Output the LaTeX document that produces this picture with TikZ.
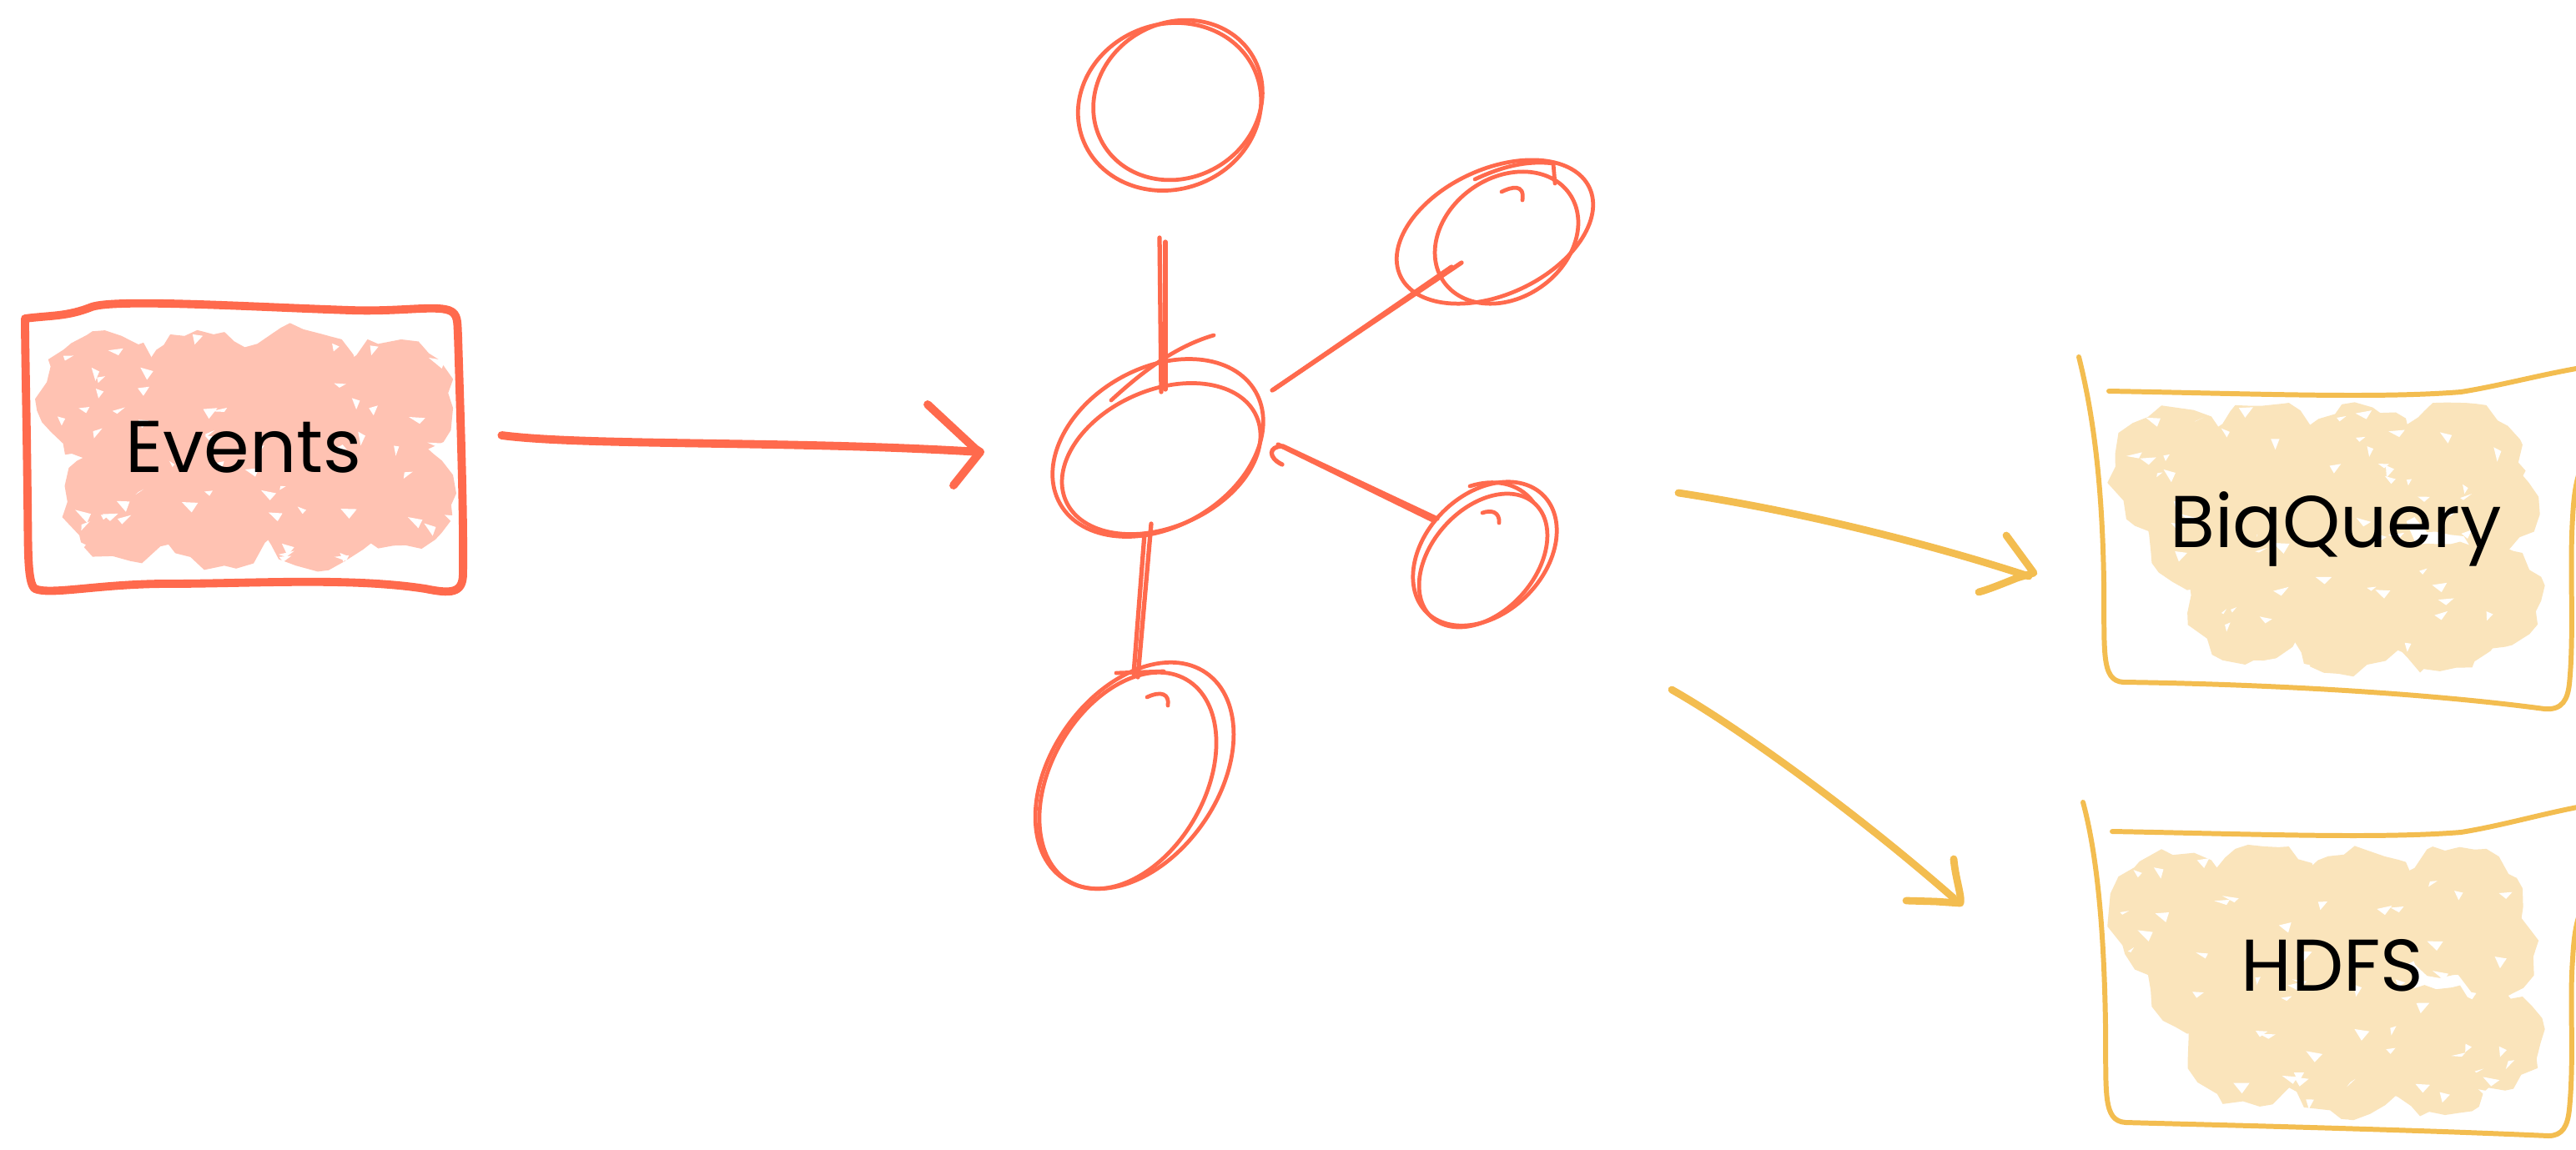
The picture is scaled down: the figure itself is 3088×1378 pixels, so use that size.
\documentclass[tikz,border=0pt]{standalone}
\usepackage{fontspec}
\newfontfamily\lblfont{Poppins}
\usetikzlibrary{arrows.meta,decorations.pathmorphing,shapes.geometric,calc}
\definecolor{redc}{RGB}{255,106,77}
\definecolor{redfill}{RGB}{255,194,178}
\definecolor{yelc}{RGB}{243,189,80}
\definecolor{yelfill}{RGB}{250,228,187}
\newcommand{\oct}[5]{\fill[#5, decorate, decoration={random steps, segment length=5pt, amplitude=1.5pt}, shift={(#1,#2)}, rotate=#4] (0:#3) -- (45:#3) -- (90:#3) -- (135:#3) -- (180:#3) -- (225:#3) -- (270:#3) -- (315:#3) -- cycle;}
\newcommand{\specks}[5]{\foreach \k in {1,...,#5}{\fill[white] ({#1+#3*rnd},{#2+#4*rnd}) -- ++({6+14*rnd},{-5+10*rnd}) -- ++({-3-8*rnd},{4+9*rnd}) -- cycle;}}
\newcommand{\yblob}{%
  \oct{2605}{565}{80}{10}{yelfill}
  \oct{2715}{562}{84}{25}{yelfill}
  \oct{2830}{566}{84}{5}{yelfill}
  \oct{2945}{562}{84}{20}{yelfill}
  \oct{2990}{610}{55}{15}{yelfill}
  \oct{2640}{640}{70}{30}{yelfill}
  \oct{2695}{720}{78}{22}{yelfill}
  \oct{2810}{732}{80}{8}{yelfill}
  \oct{2925}{728}{82}{28}{yelfill}
  \oct{2990}{715}{62}{12}{yelfill}
  \oct{2800}{650}{95}{0}{yelfill}
}
\begin{document}
\begin{tikzpicture}[x=0.01cm,y=-0.01cm,
  evline/.style={draw=redc, line width=2.8pt, line cap=round, line join=round},
  yline/.style={draw=yelc, line width=1.7pt, line cap=round, line join=round},
  gline/.style={draw=redc, line width=1.35pt, line cap=round},
  gnode/.style={ellipse, draw=redc, line width=1.35pt, inner sep=0pt},
  conn/.style={draw=redc, line width=1.5pt, line cap=round},
  rarr/.style={draw=redc, line width=2.8pt, line cap=round, line join=round},
  yarr/.style={draw=yelc, line width=2.5pt, line cap=round, line join=round},
  lbl/.style={font=\lblfont\fontsize{25}{30}\selectfont, text=black, inner sep=0pt},
]
\useasboundingbox (0,0) rectangle (3088,1378);
\fill[white] (0,0) rectangle (3088,1378);
\pgfmathsetseed{4711}

% ---------- Events fill ----------
\oct{125}{478}{82}{10}{redfill}
\oct{240}{478}{85}{25}{redfill}
\oct{355}{472}{85}{5}{redfill}
\oct{468}{482}{80}{20}{redfill}
\oct{150}{600}{78}{15}{redfill}
\oct{265}{608}{78}{30}{redfill}
\oct{380}{605}{80}{10}{redfill}
\oct{480}{595}{68}{22}{redfill}
\oct{300}{540}{95}{0}{redfill}
\specks{60}{400}{480}{280}{60}

% ---------- BiqQuery / HDFS fills ----------
\yblob
\specks{2540}{485}{500}{330}{60}
\begin{scope}[shift={(0,532)}]
\yblob
\end{scope}
\specks{2540}{1017}{500}{330}{60}

% ---------- Events box ----------
\draw[evline] (30,382) .. controls (60,378) and (80,380) .. (110,368)
  .. controls (140,358) and (300,368) .. (420,372)
  .. controls (480,374) and (520,366) .. (538,372)
  .. controls (550,376) and (548,388) .. (549,402)
  .. controls (552,500) and (556,620) .. (555,688)
  .. controls (555,712) and (540,712) .. (510,706)
  .. controls (420,692) and (300,700) .. (200,700)
  .. controls (120,700) and (60,714) .. (42,706)
  .. controls (32,700) and (34,650) .. (33,600)
  .. controls (32,500) and (30,420) .. (30,382);
\node[lbl, minimum width=5.25cm, minimum height=3.38cm] (ev) at (292,536) {Events};

% ---------- BiqQuery box ----------
\draw[yline] (2528,469) .. controls (2700,472) and (2850,478) .. (2950,470)
  .. controls (3000,462) and (3050,448) .. (3100,440);
\draw[yline] (2492,428) .. controls (2505,480) and (2520,560) .. (2522,700)
  .. controls (2523,780) and (2518,816) .. (2545,818)
  .. controls (2700,820) and (2900,830) .. (3050,850)
  .. controls (3072,852) and (3078,838) .. (3080,820)
  .. controls (3086,760) and (3080,680) .. (3084,620)
  .. controls (3086,580) and (3092,560) .. (3100,555);
\node[lbl] (bq) at (2800,634) {BiqQuery};

% ---------- HDFS box ----------
\draw[yline] (2532,997) .. controls (2700,1000) and (2850,1006) .. (2950,998)
  .. controls (3000,990) and (3050,975) .. (3100,966);
\draw[yline] (2497,962) .. controls (2510,1010) and (2522,1090) .. (2524,1230)
  .. controls (2525,1310) and (2520,1344) .. (2548,1346)
  .. controls (2700,1350) and (2900,1355) .. (3055,1362)
  .. controls (3072,1362) and (3078,1350) .. (3080,1330)
  .. controls (3086,1270) and (3080,1200) .. (3084,1150)
  .. controls (3086,1110) and (3092,1090) .. (3100,1085);
\node[lbl] (hd) at (2796,1158) {HDFS};

% ---------- graph nodes ----------
\node[gnode, minimum width=2.22cm, minimum height=1.98cm, rotate=20] (n1) at (1402,128) {};
\node[gnode, minimum width=2.7cm, minimum height=1.9cm, rotate=30] (mid) at (1388,537) {};
\node[gnode, minimum width=2.5cm, minimum height=1.5cm, rotate=25] (ur) at (1792,278) {};
\node[gnode, minimum width=1.98cm, minimum height=1.42cm, rotate=45] (rs) at (1780,664) {};
\node[gnode, minimum width=3.0cm, minimum height=2.0cm, rotate=55] (bt) at (1360,930) {};

% second sketch strokes
\draw[gline, rotate around={30:(1412,120)}] (1412,120) ellipse [x radius=104, y radius=93];
\draw[gline, rotate around={24:(1392,550)}] (1392,550) ellipse [x radius=125, y radius=82];
\draw[gline, rotate around={35:(1806,285)}] (1806,285) ellipse [x radius=92, y radius=72];
\draw[gline, rotate around={48:(1778,672)}] (1778,672) ellipse [x radius=92, y radius=62];
\draw[gline, rotate around={60:(1352,936)}] (1352,936) ellipse [x radius=140, y radius=92];
% overshoot ticks and hooks
\draw[gline] (1332,480) .. controls (1370,445) and (1410,415) .. (1455,402);
\draw[gline] (1338,807) -- (1395,805);
\draw[gline] (1375,836) .. controls (1392,828) and (1402,832) .. (1400,846);
\draw[gline] (1768,215) .. controls (1800,200) and (1830,192) .. (1862,196) -- (1864,220);
\draw[gline] (1800,230) .. controls (1812,224) and (1828,220) .. (1825,240);
\draw[gline] (1762,583) .. controls (1790,574) and (1820,578) .. (1838,602);
\draw[gline] (1777,615) .. controls (1788,611) and (1798,614) .. (1797,627);

% ---------- connectors in the graph ----------
\draw[conn] ([shift={(-12,157)}]n1.center) -- ([shift={(4,-67)}]mid.center);
\draw[conn] ([shift={(-5,162)}]n1.center) -- ([shift={(9,-70)}]mid.center);
\draw[conn] ([shift={(137,-69)}]mid.center) -- ([shift={(-40,37)}]ur.center);
\draw[conn] ([shift={(139,-70)}]mid.center) -- ([shift={(-52,42)}]ur.center);
\draw[conn] ([shift={(149,20)}]mid.center) .. controls ([shift={(132,12)}]mid.center) and ([shift={(132,-2)}]mid.center) .. ([shift={(150,-2)}]mid.center) -- ([shift={(-57,-42)}]rs.center);
\draw[conn] ([shift={(144,-4)}]mid.center) -- ([shift={(-62,-40)}]rs.center);
\draw[conn] ([shift={(-8,91)}]mid.center) -- ([shift={(4,-118)}]bt.center);
\draw[conn] ([shift={(-16,103)}]mid.center) -- ([shift={(-1,-122)}]bt.center);

% ---------- arrows ----------
\coordinate (t1) at ([shift={(-213,5)}]mid.center);
\draw[rarr] ([shift={(46,-14)}]ev.east) .. controls (700,535) and (950,528) .. (t1);
\draw[rarr] ([shift={(-63,-57)}]t1) -- ([shift={(-6,-4)}]t1) -- (t1) -- ([shift={(-32,40)}]t1);

\coordinate (t2) at ([shift={(-362,53)}]bq.center);
\draw[yarr] ([shift={(232,-73)}]rs.center) .. controls (2150,612) and (2300,648) .. ([shift={(-6,4)}]t2);
\draw[yarr] ([shift={(-33,-45)}]t2) -- (t2) -- ([shift={(-20,6)}]t2) .. controls ([shift={(-40,14)}]t2) and ([shift={(-55,20)}]t2) .. ([shift={(-66,23)}]t2);

\coordinate (t3) at ([shift={(-446,-75)}]hd.center);
\draw[yarr] ([shift={(224,163)}]rs.center) .. controls (2080,870) and (2220,970) .. ([shift={(-8,-6)}]t3);
\draw[yarr] ([shift={(-8,-53)}]t3) .. controls ([shift={(-6,-30)}]t3) and ([shift={(2,-8)}]t3) .. (t3) -- ([shift={(-30,-2)}]t3) -- ([shift={(-65,-3)}]t3);
\end{tikzpicture}
\end{document}
